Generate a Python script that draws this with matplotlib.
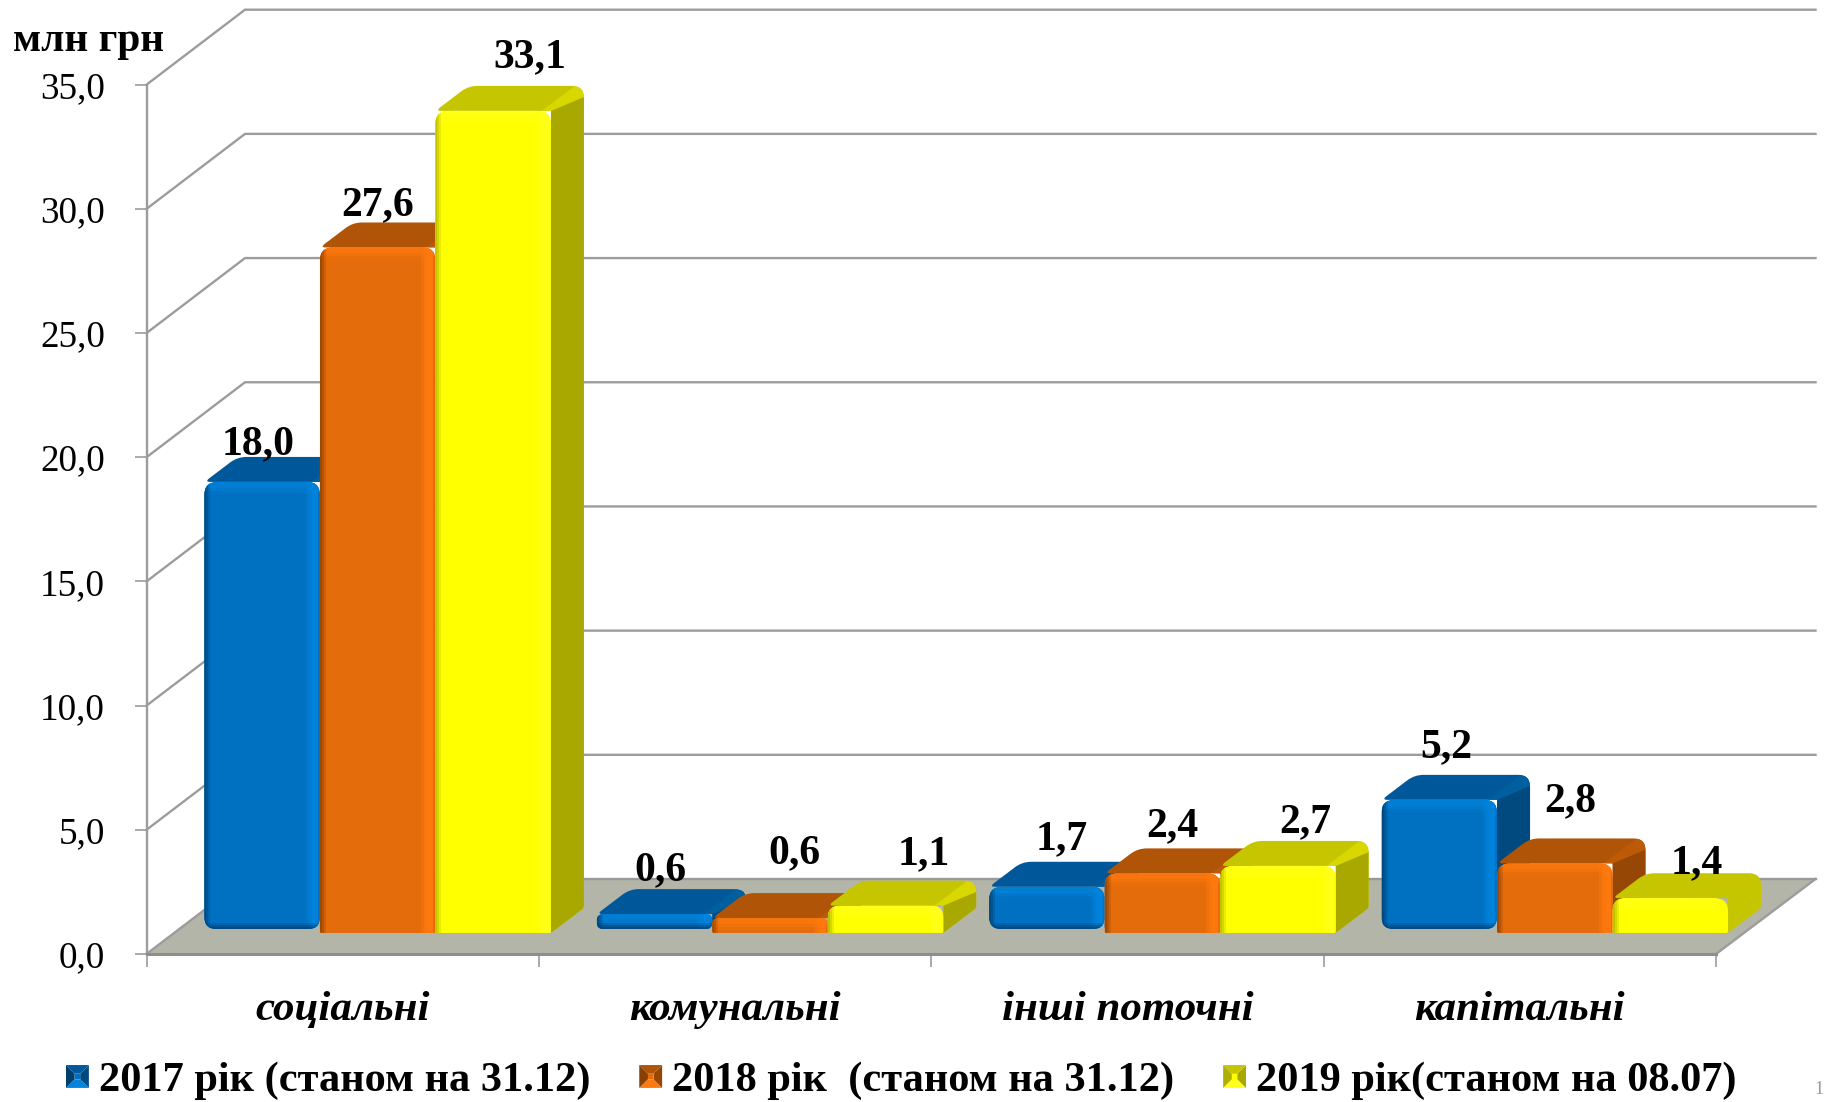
import numpy as np
import matplotlib
matplotlib.use("Agg")
import matplotlib.pyplot as plt
from matplotlib.path import Path
from matplotlib.patches import PathPatch, Polygon, Rectangle
from matplotlib.transforms import IdentityTransform
from matplotlib.legend_handler import HandlerBase
from matplotlib.ticker import FuncFormatter

categories = ["соціальні", "комунальні", "інші поточні", "капітальні"]
series_names = ["2017 рік (станом на 31.12)", "2018 рік  (станом на 31.12)", "2019 рік(станом на 08.07)"]
values_2017 = [18.0, 0.6, 1.7, 5.2]
values_2018 = [27.6, 0.6, 2.4, 2.8]
values_2019 = [33.1, 1.1, 2.7, 1.4]
y_ticks = [0, 5, 10, 15, 20, 25, 30, 35]

W, H, DPI = 1825, 1102, 100
FAM = ["Liberation Serif", "DejaVu Serif"]

STYLES = [
    dict(front="#0070C0", top="#00589A", side="#004A80", hi="#0084DC", hi2="#005F9E", dark="#003F6E"),
    dict(front="#E46C0A", top="#B05407", side="#964705", hi="#FF7A0E", hi2="#BC5A08", dark="#8A4004"),
    dict(front="#FFFF00", top="#C6C600", side="#A8A800", hi="#FFFF1A", hi2="#D8D800", dark="#B0B000"),
]

fig = plt.figure(figsize=(W / DPI, H / DPI), dpi=DPI, facecolor="white")
L, R, T, B = 146.5, 1716.0, 84.7, 954.0
ax = fig.add_axes([L / W, 1 - B / H, (R - L) / W, (B - T) / H])
ax.set_xlim(0, len(categories))
ax.set_ylim(0, 35)
ax.patch.set_visible(False)

def D(x_data, y_data):
    return ax.transData.transform((x_data, y_data))

GRID = "#9C9C9C"
GLW = 1.7
WX, WY = 98.5, 75.0     # depth of the chart box, px
ID = IdentityTransform()

# floor
p0 = D(0, 0); p1 = D(len(categories), 0)
ax.add_patch(Polygon([p0, p0 + (WX, WY), p1 + (WX + 1, WY), p1], closed=True, transform=ID,
                     fc="#B2B5A8", ec="none", zorder=1, clip_on=False))
ax.plot([p1[0], p1[0] + WX + 1], [p1[1], p1[1] + WY], transform=ID, color=GRID, lw=GLW, zorder=1.5, clip_on=False)
ax.plot([p0[0] + WX, p1[0] + WX + 1], [p0[1] + WY] * 2, transform=ID, color="#999999", lw=GLW, zorder=1.5, clip_on=False)

# walls / gridlines
for v in y_ticks:
    a = D(0, v)
    if v > 0:
        ax.plot([a[0], a[0] + WX, p1[0] + WX + 1], [a[1], a[1] + WY, a[1] + WY], transform=ID,
                color=GRID, lw=GLW, zorder=1.5, clip_on=False)
    else:
        ax.plot([a[0], a[0] + WX], [a[1], a[1] + WY], transform=ID, color=GRID, lw=GLW, zorder=1.5, clip_on=False)


def rounded(points, r):
    """closed polygon with quadratic rounded corners"""
    pts = [np.asarray(q, float) for q in points]
    n = len(pts)
    verts, codes = [], []
    for i in range(n):
        prev, cur, nxt = pts[i - 1], pts[i], pts[(i + 1) % n]
        rr = r[i] if np.iterable(r) else r
        d1 = np.linalg.norm(prev - cur); d2 = np.linalg.norm(nxt - cur)
        rr1 = min(rr, d1 * 0.5); rr2 = min(rr, d2 * 0.5)
        a = cur + (prev - cur) / d1 * rr1
        b = cur + (nxt - cur) / d2 * rr2
        verts.append(a); codes.append(Path.MOVETO if i == 0 else Path.LINETO)
        verts += [cur, b]; codes += [Path.CURVE3, Path.CURVE3]
    verts.append(verts[0]); codes.append(Path.CLOSEPOLY)
    return Path(verts, codes)


n_series = 3
group_w = 346.5 / ((R - L) / len(categories))   # width of the three bars, in category units
bar_w = group_w / n_series
DX, DY = 33.0, 25.0        # depth of a bar, px
CAT_SHIFT = 35.0 / ((R - L) / len(categories))
BASES = [25.0 / 24.84, 21.0 / 24.84, 21.0 / 24.84]   # bar floor level (depth offset), value units
ROUND_BOTTOM = [12, 2, 2]
x_centres = np.arange(len(categories)) + 0.5 + CAT_SHIFT
all_values = [values_2017, values_2018, values_2019]

zb = 3.0
label_pos = []
for g in range(len(categories)):
    for s in range(n_series):
        st = STYLES[s]
        val = all_values[s][g]
        xc = x_centres[g] + (s - 1) * bar_w
        zb += 1
        rect = ax.bar(xc, val, width=bar_w, bottom=BASES[s], color=st["front"], zorder=zb + 0.5,
                      clip_on=True, linewidth=0)[0]
        ll = D(xc - bar_w / 2, BASES[s]); ur = D(xc + bar_w / 2, BASES[s] + val)
        x0, y0 = ll; x1, y1 = ur
        rb = ROUND_BOTTOM[s]
        rt = min(13, (y1 - y0) * 0.45)
        rb_use = min(rb, (y1 - y0) * 0.45)
        # silhouette of top + side
        sil = rounded([(x0, y1), (x0 + DX, y1 + DY), (x1 + DX, y1 + DY), (x1 + DX, y0 + DY), (x1, y0), (x1, y1)],
                      [6, 9, 12, 3, 2, 0])
        sil_p = PathPatch(sil, transform=ID, fc=st["top"], ec="none", zorder=zb, clip_on=False)
        ax.add_patch(sil_p)
        # side
        side = Polygon([(x1, y1), (x1 + DX, y1 + DY - 11), (x1 + DX, y0 + DY), (x1, y0)], closed=True, transform=ID,
                       fc=st["side"], ec="none", zorder=zb + 0.1)
        ax.add_patch(side); side.set_clip_path(sil_p)
        # light wedge between top and side
        wedge = Polygon([(x1 - 9, y1), (x1 - 9 + DX, y1 + DY), (x1 + DX, y1 + DY), (x1 + DX, y1 + DY - 11), (x1, y1)],
                        closed=True, transform=ID, fc=st["hi2"], ec="none", zorder=zb + 0.2)
        ax.add_patch(wedge); wedge.set_clip_path(sil_p)
        # front face, the bar clipped to a rounded outline
        face = PathPatch(rounded([(x0, y0), (x0, y1), (x1, y1), (x1, y0)], [rb_use, rt, rt, rb_use]),
                         transform=ID, fc=st["front"], ec="none", zorder=zb + 0.4, clip_on=False)
        ax.add_patch(face)
        rect.set_clip_path(face)
        # soft bevels, all clipped to the face
        bev = []
        for k, a_ in enumerate((0.25, 0.45, 0.6)):
            wd = 12 - 3 * k
            bev.append(((x0, y1 - wd), x1 - x0, wd, st["hi"], a_ * 0.8))
            bev.append(((x1 - wd - 2, y0), wd, y1 - y0, st["hi"], a_ + 0.15))
        for k, a_ in enumerate((0.25, 0.35, 0.5)):
            wd = 6 - 2 * k
            bev.append(((x0, y0), wd, y1 - y0, st["dark"], a_))
            if s == 0:
                bev.append(((x0, y0), x1 - x0, wd, st["dark"], a_))
        for (xy, w_, h_, col, alp) in bev:
            b_ = Rectangle(xy, w_, h_, transform=ID, fc=col, ec="none", alpha=alp, zorder=zb + 0.6)
            ax.add_patch(b_); b_.set_clip_path(face)
        label_pos.append((g, s, xc, val))

# axes, ticks and labels
for sp in ("top", "right"):
    ax.spines[sp].set_visible(False)
ax.spines["left"].set(color=GRID, linewidth=GLW, zorder=2)
ax.spines["bottom"].set(color="#8E8E8E", linewidth=2.2, zorder=2)
ax.set_yticks(y_ticks)
ax.yaxis.set_major_formatter(FuncFormatter(lambda v, _: f"{v:.1f}".replace(".", ",")))
ax.set_xticks(np.arange(len(categories) + 1))
ax.set_xticklabels([])
ax.tick_params(axis="y", length=8.3, width=1.2, color=GRID, pad=21.6, labelsize=26.7)
ax.tick_params(axis="x", length=9.4, width=1.2, color=GRID)
for t in ax.get_yticklabels():
    t.set_family(FAM)

# category labels
for i, c in enumerate(categories):
    ax.annotate(c, (i + 0.5, 0), xytext=(0, -40.5), textcoords="offset points", ha="center", va="center",
                fontsize=31, family=FAM, fontstyle="italic", fontweight="bold", annotation_clip=False)

# value labels: px offsets from the bar's front top centre
offsets = {(0, 0): (-4, 19), (0, 1): (0, 23), (0, 2): (37, 34.5),
           (1, 0): (6, 25), (1, 1): (24, 45.5), (1, 2): (38, 32),
           (2, 0): (15, 29), (2, 1): (10, 28), (2, 2): (27, 25),
           (3, 0): (7, 34), (3, 1): (15, 43), (3, 2): (26.5, 16)}
for g, s, xc, val in label_pos:
    o = offsets[(g, s)]
    ax.annotate(f"{val:.1f}".replace(".", ","), (xc, BASES[s] + val), xytext=(o[0] * 0.72, o[1] * 0.72),
                textcoords="offset points", ha="center", va="bottom", fontsize=30, family=FAM,
                fontweight="bold", zorder=100, annotation_clip=False)

# unit label
fig.text(13 / W, 1 - 42 / H, "млн грн", fontsize=29.7, family=FAM, fontweight="bold", va="center", ha="left")
fig.text(1824 / W, 1 - 1090 / H, "1", fontsize=13, family=FAM, color="#9A9A9A", va="center", ha="right")


class BevelHandler(HandlerBase):
    def create_artists(self, legend, orig, xd, yd, w, h, fontsize, trans):
        st = orig.style
        s_ = w
        x0 = -xd; y0 = -yd + (h - s_) / 2
        x1, y1 = x0 + s_, y0 + s_
        i = s_ * 0.38
        c = [(x0, y0), (x1, y0), (x1, y1), (x0, y1)]
        n = [(x0 + i, y0 + i), (x1 - i, y0 + i), (x1 - i, y1 - i), (x0 + i, y1 - i)]
        out = []
        for k, col in enumerate([st["hi"], st["side"], st["top"], st["dark"]]):
            out.append(Polygon([c[k], c[(k + 1) % 4], n[(k + 1) % 4], n[k]], closed=True, fc=col, ec="none", transform=trans))
        out.append(Polygon(n, closed=True, fc=st["front"], ec="none", transform=trans))
        return out


handles = []
for st in STYLES:
    h_ = Rectangle((0, 0), 1, 1, fc=st["front"])
    h_.style = st
    handles.append(h_)
leg = fig.legend(handles, series_names, loc="center left", bbox_to_anchor=(66 / W, 1 - 1081 / H), ncol=3, frameon=False,
                 handler_map={Rectangle: BevelHandler()}, prop={"family": FAM, "weight": "bold", "size": 30.5},
                 handlelength=0.54, handletextpad=0.24, columnspacing=1.15, borderpad=0, borderaxespad=0)

fig.savefig("out.png", dpi=DPI, facecolor="white")
